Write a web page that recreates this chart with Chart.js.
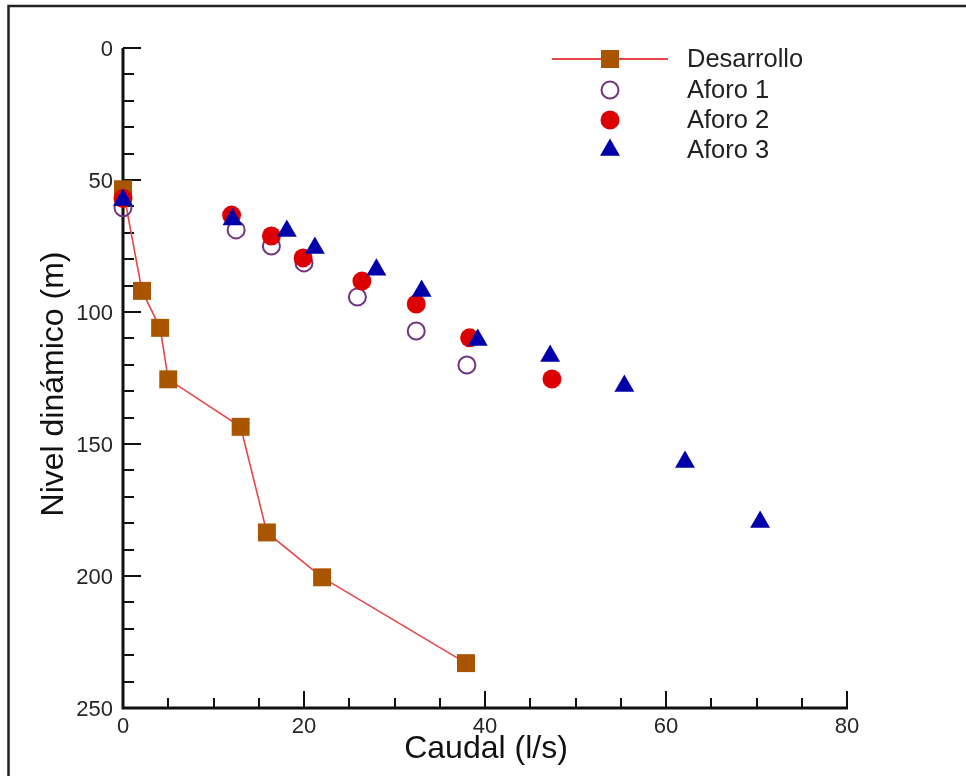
<!DOCTYPE html>
<html>
<head>
<meta charset="utf-8">
<script src="https://cdn.jsdelivr.net/npm/chart.js@4"></script>
<style>
  body { margin: 0; background: #fff; }
  canvas { display: block; }
</style>
</head>
<body>
<canvas id="grafico" width="966" height="776"></canvas>
<script>
// datos
const caudalDesarrollo = [0, 2.1, 4.1, 5.0, 13.0, 15.9, 22.0, 37.9];
const nivelDesarrollo = [53.5, 92, 106, 125.5, 143.5, 183.5, 200.5, 233];

const caudalAforo1 = [0, 12.5, 16.4, 20.0, 25.9, 32.4, 38.0];
const nivelAforo1 = [60.5, 68.9, 75, 81.4, 94.3, 107.2, 120.1];

const caudalAforo2 = [0, 12.0, 16.4, 19.9, 26.4, 32.4, 38.3, 47.4];
const nivelAforo2 = [57, 63.3, 71.2, 79.5, 88.3, 97, 109.8, 125.4];

const caudalAforo3 = [0, 12.1, 18.1, 21.2, 28.0, 33.0, 39.2, 47.2, 55.4, 62.1, 70.4];
const nivelAforo3 = [57.6, 65, 69.3, 75.8, 84, 92, 110.6, 116.7, 128, 156.8, 179.5];

const xTicks = [0, 20, 40, 60, 80];
const yTicks = [0, 50, 100, 150, 200, 250];
const xMinorStep = 5;
const yMinorStep = 10;

const tituloX = 'Caudal (l/s)';
const tituloY = 'Nivel dinámico (m)';
const nombres = ['Desarrollo', 'Aforo 1', 'Aforo 2', 'Aforo 3'];

const FONT = '"Liberation Sans", Arial, Helvetica, sans-serif';

function puntos(xs, ys) {
  return xs.map((x, i) => ({ x: x, y: ys[i] }));
}

// ejes con marcas hacia adentro, como en el original
const ejesPlugin = {
  id: 'ejes',
  beforeDatasetsDraw(chart) {
    const ctx = chart.ctx;
    const xs = chart.scales.x;
    const ys = chart.scales.y;
    const left = xs.getPixelForValue(0);
    const bottom = ys.getPixelForValue(250);
    ctx.save();
    ctx.strokeStyle = '#111';
    ctx.lineCap = 'butt';

    // marcas eje Y
    ctx.lineWidth = 2;
    for (let v = 0; v <= 250; v += yMinorStep) {
      const py = Math.round(ys.getPixelForValue(v));
      const largo = (v % 50 === 0) ? 18 : 11;
      ctx.beginPath();
      ctx.moveTo(left, py);
      ctx.lineTo(left + largo, py);
      ctx.stroke();
    }
    // marcas eje X
    for (let v = 0; v <= 80; v += xMinorStep) {
      const px = Math.round(xs.getPixelForValue(v));
      const largo = (v % 20 === 0) ? 17 : 10;
      ctx.beginPath();
      ctx.moveTo(px, bottom);
      ctx.lineTo(px, bottom - largo);
      ctx.stroke();
    }

    // líneas de los ejes
    ctx.lineWidth = 3;
    ctx.beginPath();
    ctx.moveTo(left, ys.getPixelForValue(0));
    ctx.lineTo(left, bottom);
    ctx.lineTo(xs.getPixelForValue(80) + 1, bottom);
    ctx.stroke();
    ctx.restore();
  },
  afterDraw(chart) {
    const ctx = chart.ctx;
    const xs = chart.scales.x;
    const ys = chart.scales.y;
    const left = xs.getPixelForValue(0);
    const bottom = ys.getPixelForValue(250);
    ctx.save();

    // marco
    ctx.strokeStyle = '#222';
    ctx.lineWidth = 2.5;
    ctx.strokeRect(8.5, 6, 2000, 2000);

    // etiquetas
    ctx.fillStyle = '#262626';
    ctx.font = '22px ' + FONT;
    ctx.textAlign = 'right';
    ctx.textBaseline = 'middle';
    yTicks.forEach(v => {
      ctx.fillText(String(v), left - 10, ys.getPixelForValue(v) + 2);
    });
    ctx.textAlign = 'center';
    xTicks.forEach(v => {
      ctx.fillText(String(v), xs.getPixelForValue(v), bottom + 19);
    });

    // títulos
    ctx.fillStyle = '#111';
    ctx.font = '32px ' + FONT;
    ctx.fillText(tituloX, 486, 749);
    ctx.save();
    ctx.translate(54, 384);
    ctx.rotate(-Math.PI / 2);
    ctx.fillText(tituloY, 0, 0);
    ctx.restore();

    // leyenda
    const lx = 610;
    const filas = [59, 90, 120, 150];
    ctx.strokeStyle = '#e8474a';
    ctx.lineWidth = 2;
    ctx.beginPath();
    ctx.moveTo(552, filas[0]);
    ctx.lineTo(668, filas[0]);
    ctx.stroke();
    ctx.fillStyle = '#a95500';
    ctx.fillRect(lx - 9, filas[0] - 9, 18, 18);

    ctx.strokeStyle = '#703482';
    ctx.lineWidth = 2;
    ctx.beginPath();
    ctx.arc(lx, filas[1], 8.5, 0, Math.PI * 2);
    ctx.stroke();

    ctx.fillStyle = '#dd0000';
    ctx.beginPath();
    ctx.arc(lx, filas[2], 9.5, 0, Math.PI * 2);
    ctx.fill();

    ctx.fillStyle = '#0000aa';
    const r = 11.5;
    ctx.beginPath();
    ctx.moveTo(lx, filas[3] - r);
    ctx.lineTo(lx + r * Math.sin(2 * Math.PI / 3), filas[3] + r / 2);
    ctx.lineTo(lx - r * Math.sin(2 * Math.PI / 3), filas[3] + r / 2);
    ctx.closePath();
    ctx.fill();

    ctx.fillStyle = '#222';
    ctx.font = '25.5px ' + FONT;
    ctx.textAlign = 'left';
    nombres.forEach((n, i) => ctx.fillText(n, 687, filas[i] + 1));
    ctx.restore();
  }
};

const ctx = document.getElementById('grafico').getContext('2d');
const myChart = new Chart(ctx, {
  type: 'scatter',
  data: {
    datasets: [
      {
        label: nombres[0],
        data: puntos(caudalDesarrollo, nivelDesarrollo),
        showLine: true,
        borderColor: '#e8474a',
        borderWidth: 1.6,
        pointStyle: 'rect',
        pointRadius: 12.7,
        pointBackgroundColor: '#a95500',
        pointBorderWidth: 0,
        order: 4,
      },
      {
        label: nombres[1],
        data: puntos(caudalAforo1, nivelAforo1),
        pointStyle: 'circle',
        pointRadius: 8.5,
        pointBackgroundColor: 'rgba(255,255,255,0)',
        pointBorderColor: '#703482',
        pointBorderWidth: 2,
        order: 3,
      },
      {
        label: nombres[2],
        data: puntos(caudalAforo2, nivelAforo2),
        pointStyle: 'circle',
        pointRadius: 9.5,
        pointBackgroundColor: '#dd0000',
        pointBorderWidth: 0,
        order: 2,
      },
      {
        label: nombres[3],
        data: puntos(caudalAforo3, nivelAforo3),
        pointStyle: 'triangle',
        pointRadius: 11.5,
        pointBackgroundColor: '#0000aa',
        pointBorderWidth: 0,
        order: 1,
      },
    ],
  },
  options: {
    responsive: false,
    animation: false,
    devicePixelRatio: 1,
    clip: false,
    layout: {
      padding: { left: 123, top: 48, right: 119, bottom: 68 },
    },
    plugins: {
      legend: { display: false },
      tooltip: { enabled: false },
    },
    scales: {
      x: { type: 'linear', min: 0, max: 80, display: false },
      y: { type: 'linear', min: 0, max: 250, reverse: true, display: false },
    },
  },
  plugins: [ejesPlugin],
});
</script>
</body>
</html>
